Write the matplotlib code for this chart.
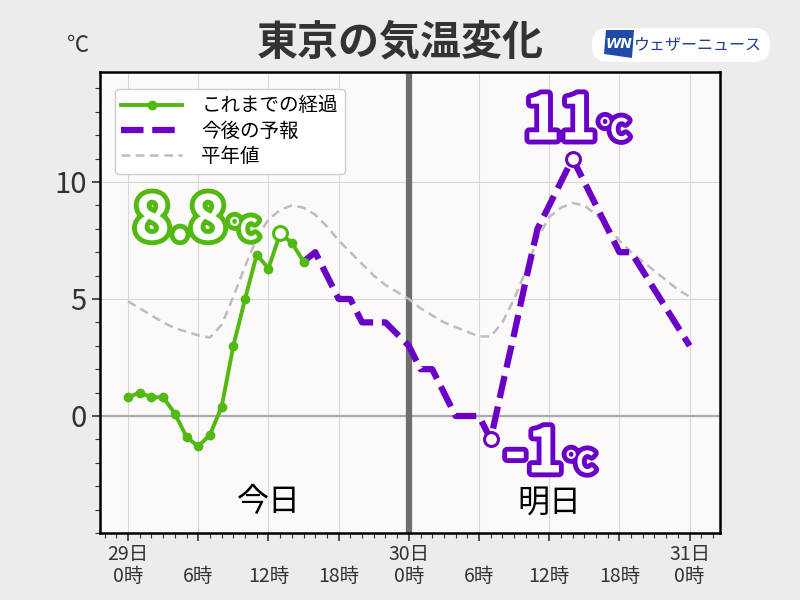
import matplotlib
matplotlib.use("Agg")
import matplotlib.pyplot as plt
from matplotlib import patheffects
from matplotlib.patches import FancyBboxPatch, Polygon
from matplotlib.ticker import MultipleLocator

plt.rcParams['font.family'] = ['Noto Sans CJK JP', 'DejaVu Sans']

# 観測 (29日 0時 からの経過時間)
hours_obs = list(range(0, 16))
temp_obs = [0.8, 1.0, 0.8, 0.8, 0.1, -0.9, -1.3, -0.8, 0.4, 3.0, 5.0, 6.9, 6.3, 7.8, 7.4, 6.6]

# 予報
hours_fc = list(range(15, 49))
temp_fc = [6.6, 7.0, 6.0, 5.0, 5.0, 4.0, 4.0, 4.0, 3.5, 3.0,
           2.0, 2.0, 1.0, 0.0, 0.0, 0.0, -1.0, 1.3, 3.5, 5.8,
           8.0, 9.0, 10.0, 11.0, 10.0, 9.0, 8.0, 7.0, 7.0, 6.2,
           5.4, 4.6, 3.8, 3.0]

# 平年値
hours_norm = list(range(0, 49))
temp_norm = [4.9, 4.6, 4.3, 4.0, 3.75, 3.6, 3.45, 3.35, 3.9, 5.1,
             6.4, 7.6, 8.4, 8.8, 9.0, 8.9, 8.6, 8.1, 7.5, 7.0,
             6.5, 6.0, 5.6, 5.3, 5.0, 4.6, 4.3, 4.0, 3.8, 3.6,
             3.4, 3.4, 4.0, 5.0, 6.2, 7.6, 8.5, 8.9, 9.1, 9.0,
             8.6, 8.1, 7.5, 7.0, 6.6, 6.2, 5.8, 5.4, 5.1]

max_obs_label = "8.8"
max_fc_label = "11"
min_fc_label = "-1"

tick_hours = [0, 6, 12, 18, 24, 30, 36, 42, 48]
tick_labels = ["29日\n0時", "\n6時", "\n12時", "\n18時", "30日\n0時",
               "\n6時", "\n12時", "\n18時", "31日\n0時"]

green = "#52B910"
purple = "#6A00C8"
bg = "#EEECEB"

fig = plt.figure(figsize=(8, 6), dpi=100, facecolor=bg)
ax = fig.add_axes([100/800, 1-533/600, 620/800, 461/600])
ax.set_facecolor("#FBF9FA")

ax.set_xlim(-2.4, 50.6)
ax.set_ylim(-5, 14.7)

ax.grid(True, color="#D9D7D8", linewidth=0.8)
ax.set_axisbelow(True)
ax.axhline(0, color="#AAAAAA", linewidth=1.6, zorder=1)
ax.axvline(24, color="#6E6E6E", linewidth=4.5, zorder=2)

l_norm, = ax.plot(hours_norm, temp_norm, color="#BDBDBD", linewidth=1.8,
                  linestyle=(0, (3.5, 2.2)), label="平年値", zorder=3)
l_fc, = ax.plot(hours_fc, temp_fc, color=purple, linewidth=4.5,
                linestyle=(0, (3.6, 1.4)), dash_capstyle="butt", label="今後の予報", zorder=4)
l_obs, = ax.plot(hours_obs, temp_obs, color=green, linewidth=2.8, marker="o",
                 markersize=6, label="これまでの経過", zorder=5)

# 最高・最低の白丸
i_obs = temp_obs.index(max(temp_obs))
i_fmax = temp_fc.index(max(temp_fc))
i_fmin = temp_fc.index(min(temp_fc))
ax.plot(hours_obs[i_obs], temp_obs[i_obs], "o", mfc="white", mec=green,
        mew=2.2, ms=10, zorder=6)
ax.plot(hours_fc[i_fmax], temp_fc[i_fmax], "o", mfc="white", mec=purple,
        mew=2.2, ms=10, zorder=6)
ax.plot(hours_fc[i_fmin], temp_fc[i_fmin], "o", mfc="white", mec=purple,
        mew=2.2, ms=10, zorder=6)


def big_label(x, y, num, color, dx, dy):
    pe = [patheffects.withStroke(linewidth=7, foreground=color)]
    ax.annotate(num, (x, y), xytext=(dx, dy), textcoords="offset pixels",
                ha="right", va="baseline", fontsize=44, fontweight="bold",
                color="white", path_effects=pe, zorder=7)
    ax.annotate("℃", (x, y), xytext=(dx + 3, dy), textcoords="offset pixels",
                ha="left", va="baseline", fontsize=21, fontweight="bold",
                color="white", path_effects=pe, zorder=7)


big_label(hours_obs[i_obs], temp_obs[i_obs], max_obs_label, green, -54, -6)
big_label(hours_fc[i_fmax], temp_fc[i_fmax], max_fc_label, purple, 24, 19)
big_label(hours_fc[i_fmin], temp_fc[i_fmin], min_fc_label, purple, 72, -33)

ax.text(12, -3.7, "今日", fontsize=23, ha="center", va="center", color="black")
ax.text(36, -3.7, "明日", fontsize=23, ha="center", va="center", color="black")

# 軸
ax.set_xticks(tick_hours)
ax.set_xticklabels(tick_labels, fontsize=14, color="#333333", linespacing=1.05)
ax.xaxis.set_minor_locator(MultipleLocator(1))
ax.set_yticks([0, 5, 10])
ax.set_yticklabels(["0", "5", "10"], fontsize=21, color="#333333")
ax.yaxis.set_minor_locator(MultipleLocator(1))
ax.tick_params(which="major", length=6, width=1.2, color="#333333")
ax.tick_params(axis="x", which="major", pad=2)
ax.tick_params(which="minor", length=3.5, width=0.8, color="#333333")
for s in ax.spines.values():
    s.set_linewidth(1.8)
    s.set_color("black")

leg = ax.legend([l_obs, l_fc, l_norm], ["これまでの経過", "今後の予報", "平年値"],
                loc="upper left", fontsize=14, frameon=True, handlelength=3.1,
                borderpad=0.35, labelspacing=0.22, handletextpad=1.0,
                bbox_to_anchor=(0.008, 0.985))
leg.get_frame().set_edgecolor("#CCCCCC")
leg.get_frame().set_facecolor("white")
leg.get_frame().set_alpha(1)

# タイトル・単位
fig.text(0.5, 1-42/600, "東京の気温変化", fontsize=29.5, fontweight="bold",
         color="#333333", ha="center", va="center")
fig.text(78/800, 1-46/600, "℃", fontsize=16, color="#333333",
         ha="center", va="center")

# ロゴ
lax = fig.add_axes([590/800, 1-63/600, 182/800, 36/600])
lax.set_xlim(0, 182)
lax.set_ylim(0, 36)
lax.axis("off")
lax.add_patch(FancyBboxPatch((2, 1), 178, 34, boxstyle="round,pad=0,rounding_size=16",
                             facecolor="white", edgecolor="none"))
lax.add_patch(Polygon([[14, 9], [42, 5], [44, 33], [16, 33]], closed=True,
                      facecolor="#1F4AA8", edgecolor="none"))
lax.text(29, 19, "WN", fontsize=10, fontweight="bold", fontstyle="italic",
         color="white", ha="center", va="center", family="DejaVu Sans")
lax.text(108, 18, "ウェザーニュース", fontsize=11.5,
         color="#1E3C8C", ha="center", va="center")

fig.savefig("out.png", dpi=100, facecolor=bg)
